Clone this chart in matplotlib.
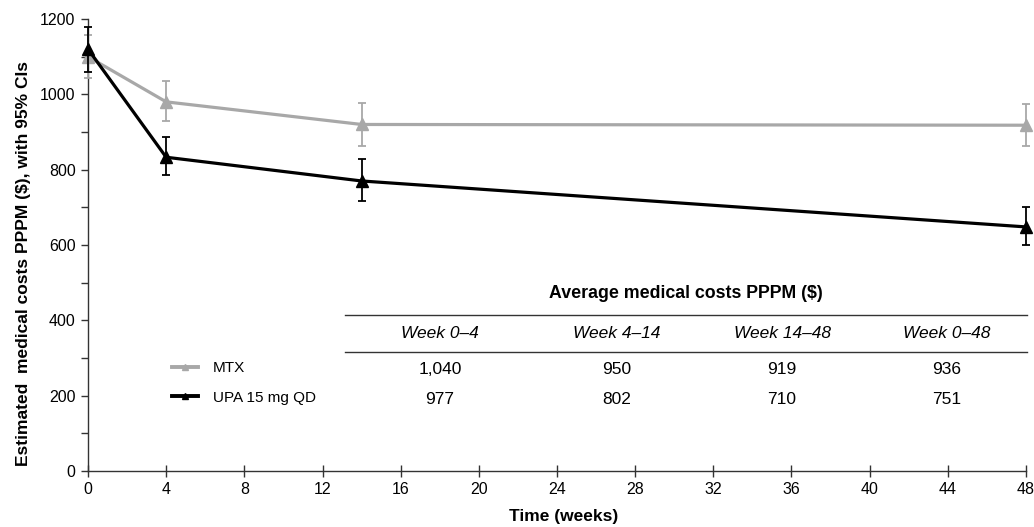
import matplotlib
matplotlib.use("Agg")
import matplotlib.pyplot as plt
from matplotlib.lines import Line2D
from matplotlib.ticker import MultipleLocator

plt.rcParams['font.family'] = ['Liberation Sans', 'DejaVu Sans']

# ---- data ----
weeks = [0, 4, 14, 48]
mtx_mean = [1100, 980, 920, 918]
mtx_lo = [1043, 928, 863, 862]
mtx_hi = [1158, 1036, 977, 975]
upa_mean = [1120, 833, 770, 648]
upa_lo = [1060, 786, 717, 600]
upa_hi = [1180, 887, 828, 700]

series_names = ["MTX", "UPA 15 mg QD"]
table_title = "Average medical costs PPPM ($)"
periods = ["Week 0\u20134", "Week 4\u201314", "Week 14\u201348", "Week 0\u201348"]
mtx_avg = ["1,040", "950", "919", "936"]
upa_avg = ["977", "802", "710", "751"]

xticks = list(range(0, 49, 4))
yticks = list(range(0, 1201, 200))

GREY = "#a8a8a8"
BLACK = "#000000"

W, H = 1034, 527
fig = plt.figure(figsize=(W / 100, H / 100), dpi=100)
L, R, T, B = 88, 1026, 19, 471
ax = fig.add_axes([L / W, 1 - B / H, (R - L) / W, (B - T) / H])


def err(mean, lo, hi):
    return [[m - l for m, l in zip(mean, lo)], [h - m for m, h in zip(mean, hi)]]


ax.errorbar(weeks, mtx_mean, yerr=err(mtx_mean, mtx_lo, mtx_hi), color=GREY,
            lw=2.3, marker='^', ms=8, elinewidth=1.3, capsize=3, capthick=1.3,
            label=series_names[0], zorder=3, clip_on=False)
ax.errorbar(weeks, upa_mean, yerr=err(upa_mean, upa_lo, upa_hi), color=BLACK,
            lw=2.3, marker='^', ms=8, elinewidth=1.3, capsize=3, capthick=1.3,
            label=series_names[1], zorder=4, clip_on=False)

ax.set_xlim(0, 48)
ax.set_ylim(0, 1200)
ax.set_xticks(xticks)
ax.set_yticks(yticks)
ax.yaxis.set_minor_locator(MultipleLocator(100))
for s in ["top", "right"]:
    ax.spines[s].set_visible(False)
for s in ["left", "bottom"]:
    ax.spines[s].set_color("#333333")
    ax.spines[s].set_linewidth(1.0)
ax.tick_params(axis='x', direction='inout', length=8, width=1, colors="#333333",
               labelcolor="black", labelsize=11.5, pad=4)
ax.tick_params(axis='y', which='major', direction='out', length=5, width=1,
               colors="#333333", labelcolor="black", labelsize=11.5, pad=4)
ax.tick_params(axis='y', which='minor', direction='out', length=5, width=1,
               colors="#333333")

ax.set_xlabel("Time (weeks)", fontsize=12.5, fontweight='bold')
ax.xaxis.set_label_coords((564 - L) / (R - L), (B - 509) / (B - T))
ax.set_ylabel("Estimated  medical costs PPPM ($), with 95% CIs", fontsize=12.5,
              fontweight='bold')
ax.yaxis.set_label_coords((31 - L) / (R - L), (B - 263) / (B - T))

# legend
handles = [Line2D([], [], color=GREY, lw=2.8, marker='^', ms=5),
           Line2D([], [], color=BLACK, lw=2.8, marker='^', ms=5)]
leg = ax.legend(handles, series_names, loc='center left', frameon=False,
                bbox_to_anchor=((158 - L) / (R - L), (B - 383) / (B - T)),
                fontsize=11, handlelength=1.7, handletextpad=1.0,
                labelspacing=1.0, numpoints=1)

# table
def fx(px):
    return px / W


def fy(py):
    return 1 - py / H


col_x = [440, 617, 782, 947]
fig.text(fx(686), fy(294), table_title, ha='center', va='center',
         fontsize=12.8, fontweight='bold')
for yy in (315, 352):
    fig.add_artist(Line2D([fx(345), fx(1027)], [fy(yy), fy(yy)],
                          color="#333333", lw=1.0))
for cx, p, m, u in zip(col_x, periods, mtx_avg, upa_avg):
    fig.text(fx(cx), fy(333), p, ha='center', va='center', fontsize=12.5,
             style='italic')
    fig.text(fx(cx), fy(369), m, ha='center', va='center', fontsize=12.5)
    fig.text(fx(cx), fy(399), u, ha='center', va='center', fontsize=12.5)

fig.savefig("out.png", dpi=100)
